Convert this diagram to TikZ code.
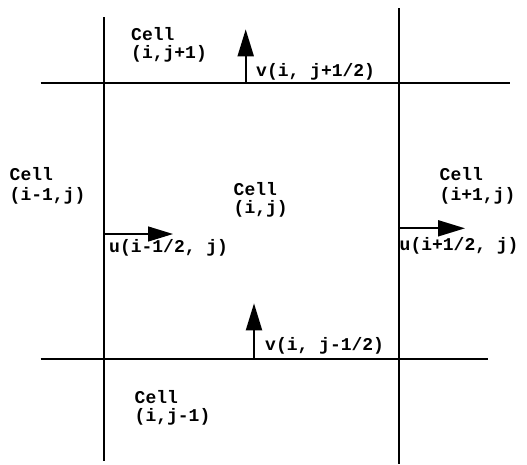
\documentclass[tikz,border=0pt]{standalone}
\usepackage{fontspec}
\setmonofont{Liberation Mono}
\usetikzlibrary{arrows.meta}
\tikzset{
  gridline/.style={line width=2.2pt, line cap=butt},
  hline/.style={line width=2pt},
  bigarrow/.style={line width=2pt, -{Triangle[length=27pt,width=16pt]}},
  thinarrow/.style={line width=1.3pt, -{Triangle[length=25pt,width=15pt]}},
  lbl/.style={anchor=base west, inner sep=0pt, font=\ttfamily\bfseries\fontsize{18}{18.5}\selectfont},
}
\begin{document}
\begin{tikzpicture}[x=1pt,y=-1pt]
\useasboundingbox (0,0) rectangle (527,464);
% grid lines
\coordinate (L1) at (104,17.3);
\coordinate (L2) at (104,460.7);
\coordinate (R1) at (399,8.3);
\coordinate (R2) at (399,464);
\coordinate (T1) at (40.7,82.7);
\coordinate (T2) at (510,82.7);
\coordinate (B1) at (40.7,359);
\coordinate (B2) at (488,359);
\draw[hline] (T1) -- (T2);
\draw[hline] (B1) -- (B2);
\draw[gridline] (L1) -- (L2);
\draw[gridline] (R1) -- (R2);
% velocity arrows
\coordinate (vt0) at (245.7,82.7);
\coordinate (vt1) at (245.7,29.3);
\coordinate (vb0) at (254,359);
\coordinate (vb1) at (254,303.3);
\coordinate (ul0) at (105,234);
\coordinate (ul1) at (173,234);
\coordinate (ur0) at (400,228.3);
\coordinate (ur1) at (465,228.3);
\draw[bigarrow] (vt0) -- (vt1);
\draw[bigarrow] (vb0) -- (vb1);
\draw[thinarrow] (ul0) -- (ul1);
\draw[bigarrow] (ur0) -- (ur1);
% labels
\node[lbl] (ct1) at (131,40.7) {Cell};
\node[lbl] (ct2) at (131,58.5) {(i,j+1)};
\node[lbl] (vtl) at (256,76) {v(i, j+1/2)};
\node[lbl] (cl1) at (9.5,180.7) {Cell};
\node[lbl] (cl2) at (9.5,200) {(i-1,j)};
\node[lbl] (cc1) at (233.5,195) {Cell};
\node[lbl] (cc2) at (233.5,213) {(i,j)};
\node[lbl] (ull) at (109,252.7) {u(i-1/2, j)};
\node[lbl] (cr1) at (439.5,180.7) {Cell};
\node[lbl] (cr2) at (439.5,200) {(i+1,j)};
\node[lbl] (url) at (399.5,250) {u(i+1/2, j)};
\node[lbl] (vbl) at (265,350) {v(i, j-1/2)};
\node[lbl] (cb1) at (134.5,403) {Cell};
\node[lbl] (cb2) at (134.5,421.5) {(i,j-1)};
\end{tikzpicture}
\end{document}
